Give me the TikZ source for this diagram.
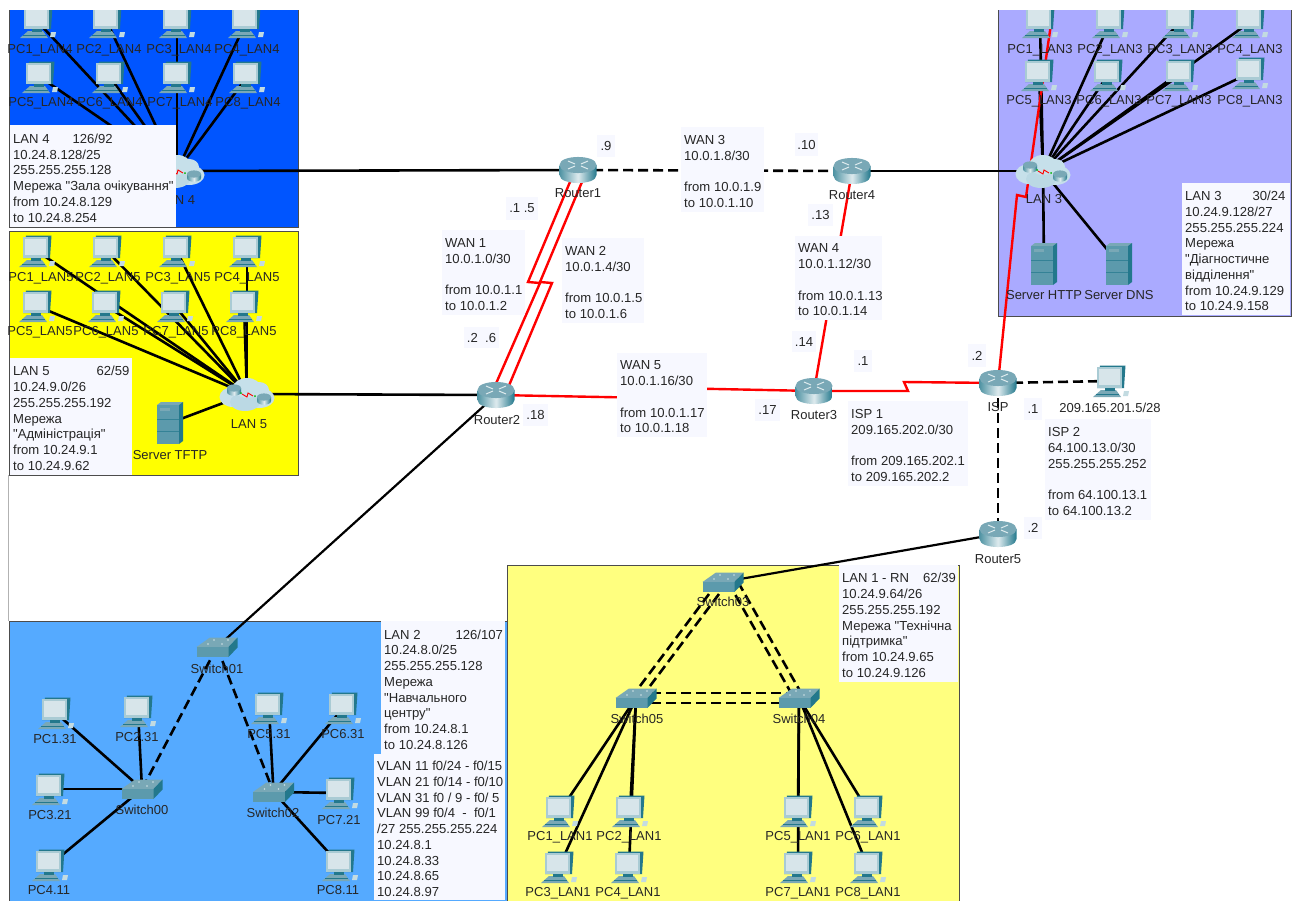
\documentclass[tikz,border=0pt]{standalone}
\usepackage{fontspec}
\setmainfont{Liberation Sans}
\newfontfamily\lsans{Liberation Sans}
\usetikzlibrary{calc}
\pgfdeclarelayer{regions}\pgfdeclarelayer{conn}\pgfdeclarelayer{labels}\pgfdeclarelayer{notes}
\pgfsetlayers{regions,conn,main,labels,notes}
\definecolor{lanfour}{HTML}{0055FF}
\definecolor{lanfive}{HTML}{FFFF00}
\definecolor{lanthree}{HTML}{AAAAFF}
\definecolor{lantwo}{HTML}{55AAFF}
\definecolor{lanone}{HTML}{FFFF7F}
\definecolor{notefill}{HTML}{F7F8FF}
\definecolor{txt}{HTML}{262626}
\definecolor{teal1}{HTML}{5C9AAC}
\definecolor{teal2}{HTML}{23788C}
\definecolor{teal3}{HTML}{79A8B6}
\definecolor{screenc}{HTML}{D7E5EA}
\definecolor{framec}{HTML}{A9CBD4}
\definecolor{cloudc}{HTML}{C6E0EA}
\tikzset{
  region/.style={draw=black!70,line width=1pt},
  lanlink/.style={draw=black,line width=2.6pt},
  thinlink/.style={draw=black,line width=2.2pt},
  dashlink/.style={draw=black,line width=2.6pt,dash pattern=on 10pt off 5pt},
  redlink/.style={draw=red,line width=2.4pt,line join=miter},
  devlabel/.style={font=\lsans\fontsize{13}{15}\selectfont,text=txt,inner sep=0pt},
  noteb/.style={fill=notefill,anchor=north west,inner sep=0pt,outer sep=0pt},
  notet/.style={anchor=west,inner sep=0pt,align=left,font=\lsans\fontsize{13.1}{15.75}\selectfont,text=txt},
  tagt/.style={inner sep=0pt,font=\lsans\fontsize{13.1}{15.75}\selectfont,text=txt},
  pcicon/.pic={
    \fill[teal3] (-18,16) -- (10,16) -- (5,9) -- (-10,9) -- cycle;
    \draw[teal2,line width=.6pt] (-15,13) -- (8,13);
    \fill[teal2] (-6,6) rectangle (4,10);
    \fill[teal2] (-11,-15.5) -- (14.5,-15.5) -- (13,7) -- (-14,7) -- cycle;
    \fill[framec] (-14,-14) -- (11,-14) -- (11,7) -- (-14,7) -- cycle;
    \fill[screenc] (-12,-12) rectangle (9,4);
    \fill[framec!70!white] (13,10) -- (18,10) -- (17,15) -- (12,15) -- cycle;
  },
  routericon/.pic={
    \shade[left color=teal2!80!white,right color=teal2,middle color=white!80!teal1]
      (-18.5,-5) -- (-18.5,5) .. controls (-18.5,15.7) and (18.5,15.7) .. (18.5,5) -- (18.5,-5) -- cycle;
    \fill[teal3] (-18.5,-5) .. controls (-18.5,-15.7) and (18.5,-15.7) .. (18.5,-5)
      .. controls (18.5,5.7) and (-18.5,5.7) .. (-18.5,-5) -- cycle;
    \draw[white!80!teal1,line width=1pt] (-10,-9) -- (-3,-6) (10,-9) -- (3,-6) (-10,-1) -- (-3,-4) (10,-1) -- (3,-4);
  },
  switchicon/.pic={
    \fill[teal3] (-20.5,0) -- (-7,-9.5) -- (20.5,-9.5) -- (11.5,0) -- cycle;
    \fill[teal1] (-20.5,0) rectangle (11.5,10);
    \fill[teal2] (11.5,0) -- (20.5,-9.5) -- (20.5,0.5) -- (11.5,10) -- cycle;
    \fill[white!70!teal1] (-9,-3) circle (.9) (5,-3) circle (.9) (-3,-7) circle (.9) (11,-7) circle (.9);
  },
  servericon/.pic={
    \fill[teal3] (-13,-18) -- (-9,-21) -- (13,-21) -- (9,-18) -- cycle;
    \fill[teal1] (-13,-18) rectangle (9,21);
    \fill[teal2] (9,-18) -- (13,-21) -- (13,18) -- (9,21) -- cycle;
    \fill[teal3] (-10,-15) rectangle (0,-12);
    \draw[teal2!70!teal1,line width=.5pt] (-13,-4) -- (9,-4) (-13,8) -- (9,8);
  },
  cloudicon/.pic={
    \fill[cloudc] (-14,3) ellipse [x radius=13.5pt,y radius=10pt];
    \fill[cloudc] (12,4) ellipse [x radius=15.5pt,y radius=10pt];
    \fill[cloudc!90!teal1] (-2,8) ellipse [x radius=15pt,y radius=9pt];
    \fill[cloudc] (0,-6) ellipse [x radius=14pt,y radius=10pt];
    \fill[cloudc] (12,-4) ellipse [x radius=10pt,y radius=8pt];
    \foreach \cx/\cy in {-13/-4,17/5}{
      \shade[left color=teal2!80!white,right color=teal2,middle color=white!80!teal1]
        (\cx-7,\cy-2) -- (\cx-7,\cy+2) .. controls (\cx-7,\cy+7) and (\cx+7,\cy+7) .. (\cx+7,\cy+2) -- (\cx+7,\cy-2) -- cycle;
      \fill[teal3] (\cx,\cy-2) ellipse [x radius=7pt,y radius=3.6pt];
    }
    \draw[red,line width=.9pt] (-5,0) -- (0,3) -- (1,-1) -- (6,2);
    \fill[green!70!black] (-6,-1) circle (1) (8,2) circle (1);
  },
}
\newcommand\dev[7]{%
  \coordinate (#2) at (#3,#4);
  \pic at (#2) {#1};
  \begin{pgfonlayer}{labels}\node[devlabel] (#2l) at (#5,#6) {#7};\end{pgfonlayer}}
\newcommand\notebx[6]{%
  \pgfmathsetmacro\nw{#4-#2}\pgfmathsetmacro\nh{#5-#3}\pgfmathsetmacro\ny{(#3+#5)/2+2}\pgfmathsetmacro\nx{#2+3}%
  \begin{pgfonlayer}{notes}
  \node[noteb,minimum width=\nw pt,minimum height=\nh pt] (#1) at (#2,#3) {};
  \node[notet] (#1t) at (\nx,\ny) {#6};
  \end{pgfonlayer}}
\newcommand\tagbx[6]{%
  \pgfmathsetmacro\nw{#4-#2}\pgfmathsetmacro\nh{#5-#3}%
  \begin{pgfonlayer}{notes}
  \node[noteb,minimum width=\nw pt,minimum height=\nh pt] (#1) at (#2,#3) {};
  \node[tagt] (#1t) at (#1.center) {#6};
  \end{pgfonlayer}}
\begin{document}
\begin{tikzpicture}[x=1pt,y=-1pt]
\useasboundingbox (0,0) rectangle (1298,900);
\begin{pgfonlayer}{regions}
\fill[white] (0,0) rectangle (1298,900);
\draw[black!30,line width=.8pt] (8.5,475) -- (8.5,621);
\filldraw[region,fill=lanfour] (9,9) rectangle (298,227);
\filldraw[region,fill=lanfive] (9,231) rectangle (298,475);
\filldraw[region,fill=lanthree] (998,9) rectangle (1291,316);
\filldraw[region,fill=lantwo] (9,621) rectangle (507,905);
\filldraw[region,fill=lanone] (507,565) rectangle (959,905);
\end{pgfonlayer}

% LAN 4
\dev{pcicon}{lfa}{38}{22}{40}{50}{PC1\_LAN4}
\dev{pcicon}{lfb}{107}{22}{109}{50}{PC2\_LAN4}
\dev{pcicon}{lfc}{177}{22}{179}{50}{PC3\_LAN4}
\dev{pcicon}{lfd}{246}{22}{247}{50}{PC4\_LAN4}
\dev{pcicon}{lfe}{40}{77}{41}{103}{PC5\_LAN4}
\dev{pcicon}{lff}{110}{77}{110}{103}{PC6\_LAN4}
\dev{pcicon}{lfg}{177}{77}{180}{103}{PC7\_LAN4}
\dev{pcicon}{lfh}{247}{77}{248}{103}{PC8\_LAN4}
\dev{cloudicon}{cloudfour}{177}{171}{177}{200}{LAN 4}
% LAN 5
\dev{pcicon}{lva}{37}{251}{41}{278}{PC1\_LAN5}
\dev{pcicon}{lvb}{107}{251}{108}{278}{PC2\_LAN5}
\dev{pcicon}{lvc}{177}{251}{178}{278}{PC3\_LAN5}
\dev{pcicon}{lvd}{247}{251}{247}{278}{PC4\_LAN5}
\dev{pcicon}{lve}{37}{306}{40}{332}{PC5\_LAN5}
\dev{pcicon}{lvf}{106}{306}{106}{332}{PC6\_LAN5}
\dev{pcicon}{lvg}{175}{306}{176}{332}{PC7\_LAN5}
\dev{pcicon}{lvh}{244}{306}{244}{332}{PC8\_LAN5}
\dev{cloudicon}{cloudfive}{247}{394}{249}{424}{LAN 5}
\dev{servericon}{tftp}{170}{423}{170}{455}{Server TFTP}
% LAN 3
\dev{pcicon}{lta}{1040}{22}{1040}{50}{PC1\_LAN3}
\dev{pcicon}{ltb}{1110}{22}{1110}{50}{PC2\_LAN3}
\dev{pcicon}{ltc}{1180}{22}{1180}{50}{PC3\_LAN3}
\dev{pcicon}{ltd}{1250}{22}{1250}{50}{PC4\_LAN3}
\dev{pcicon}{lte}{1039}{75}{1039}{101}{PC5\_LAN3}
\dev{pcicon}{ltf}{1108}{75}{1109}{101}{PC6\_LAN3}
\dev{pcicon}{ltg}{1180}{75}{1179}{101}{PC7\_LAN3}
\dev{pcicon}{lth}{1250}{73}{1250}{101}{PC8\_LAN3}
\dev{cloudicon}{cloudthree}{1043}{171}{1044}{199}{LAN 3}
\dev{servericon}{http}{1044}{264}{1044}{295}{Server HTTP}
\dev{servericon}{dns}{1119}{264}{1119}{295}{Server DNS}
% routers
\dev{routericon}{rone}{578}{170}{578}{193}{Router1}
\dev{routericon}{rtwo}{496}{395}{497}{420}{Router2}
\dev{routericon}{rthree}{814}{391}{814}{415}{Router3}
\dev{routericon}{rfour}{852}{171}{852}{195}{Router4}
\dev{routericon}{rfive}{998}{534}{998}{559}{Router5}
\dev{routericon}{isp}{998}{383}{998}{407}{ISP}
\dev{pcicon}{extpc}{1111}{381}{1110}{408}{209.165.201.5/28}
% LAN 2
\dev{switchicon}{swone}{217}{647}{217}{669}{Switch01}
\dev{switchicon}{swzero}{142}{789}{142}{810}{Switch00}
\dev{switchicon}{swtwo}{273.5}{792}{273}{813}{Switch02}
\dev{pcicon}{pa}{56}{713}{55}{739}{PC1.31}
\dev{pcicon}{pb}{138}{711}{137}{737}{PC2.31}
\dev{pcicon}{pc}{50}{789}{50}{815}{PC3.21}
\dev{pcicon}{pd}{50}{865}{49}{890}{PC4.11}
\dev{pcicon}{pe}{269}{708}{269}{734}{PC5.31}
\dev{pcicon}{pf}{343}{708}{343}{734}{PC6.31}
\dev{pcicon}{pg}{340}{793}{339}{820}{PC7.21}
\dev{pcicon}{ph}{340}{865}{338}{890}{PC8.11}
% LAN 1
\dev{switchicon}{swthree}{723}{582}{723}{602}{Switch03}
\dev{switchicon}{swfive}{636}{698}{637}{719}{Switch05}
\dev{switchicon}{swfour}{799}{698}{799}{719}{Switch04}
\dev{pcicon}{qa}{560}{811}{560}{837}{PC1\_LAN1}
\dev{pcicon}{qb}{630}{811}{629}{837}{PC2\_LAN1}
\dev{pcicon}{qc}{559}{867}{558}{893}{PC3\_LAN1}
\dev{pcicon}{qd}{629}{867}{628}{893}{PC4\_LAN1}
\dev{pcicon}{qe}{798}{811}{798}{837}{PC5\_LAN1}
\dev{pcicon}{qf}{868}{811}{868}{837}{PC6\_LAN1}
\dev{pcicon}{qg}{798}{867}{798}{893}{PC7\_LAN1}
\dev{pcicon}{qh}{868}{867}{868}{893}{PC8\_LAN1}

\coordinate (topfree) at (1054,3);
\begin{pgfonlayer}{conn}
\foreach \p in {lfa,lfb,lfc,lfd,lfe,lff,lfg,lfh}{\draw[lanlink] (cloudfour) -- (\p);}
\foreach \p in {lva,lvb,lvc,lvd,lve,lvf,lvg,lvh,tftp}{\draw[lanlink] (cloudfive) -- (\p);}
\foreach \p in {lta,ltb,ltc,ltd,lte,ltf,ltg,lth,http,dns}{\draw[lanlink] (cloudthree) -- (\p);}
\draw[lanlink] (cloudfour) -- (rone);
\draw[lanlink] (cloudfive) -- (rtwo);
\draw[lanlink] (rfour) -- (cloudthree);
\draw[dashlink] (rone) -- (rfour);
\draw[dashlink] (isp) -- (extpc);
\draw[dashlink] (isp) -- (rfive);
\draw[thinlink] (rfive) -- (swthree);
\draw[thinlink] (rtwo) -- (swone);
\draw[dashlink] (swone) -- (swzero);
\draw[dashlink] (swone) -- (swtwo);
\foreach \p in {pa,pb,pc,pd}{\draw[lanlink] (swzero) -- (\p);}
\foreach \p in {pe,pf,pg,ph}{\draw[lanlink] (swtwo) -- (\p);}
\foreach \p in {qa,qb,qc,qd}{\draw[lanlink] (swfive) -- (\p);}
\foreach \p in {qe,qf,qg,qh}{\draw[lanlink] (swfour) -- (\p);}
\draw[dashlink] ($(swthree)+(-5,0)$) -- ($(swfive)+(-5,0)$);
\draw[dashlink] ($(swthree)+(5,0)$) -- ($(swfive)+(5,0)$);
\draw[dashlink] ($(swthree)+(5,0)$) -- ($(swfour)+(-5,0)$);
\draw[dashlink] ($(swthree)+(15,0)$) -- ($(swfour)+(5,0)$);
\draw[dashlink] ($(swfive)+(0,-5)$) -- ($(swfour)+(0,-5)$);
\draw[dashlink] ($(swfive)+(0,5)$) -- ($(swfour)+(0,5)$);
% serial links
\draw[redlink] ($(rone)+(-3,0)$) -- (528,282) -- (540,283) -- ($(rtwo)+(-5,0)$);
\draw[redlink] ($(rone)+(9,0)$) -- (540,282) -- (552,283) -- ($(rtwo)+(9,0)$);
\draw[redlink] (rtwo) -- (655,398) -- (668,388) -- (rthree);
\draw[redlink] (rthree) -- (rfour);
\draw[redlink] (rthree) -- (908,391) -- (904,382) -- (isp);
\draw[redlink] (isp) -- (1017,195) -- (1026,197) -- (topfree);
\end{pgfonlayer}

% notes
\notebx{nfour}{10}{125}{176}{227}{LAN 4\hspace*{23pt}126/92\\10.24.8.128/25\\255.255.255.128\\Мережа "Зала очікування"\\from 10.24.8.129\\to 10.24.8.254}
\notebx{nfive}{10}{358}{132}{475}{LAN 5\hspace*{47pt}62/59\\10.24.9.0/26\\255.255.255.192\\Мережа\\"Адміністрація"\\from 10.24.9.1\\to 10.24.9.62}
\notebx{nthree}{1182}{183}{1290}{315}{LAN 3\hspace*{31pt}30/24\\10.24.9.128/27\\255.255.255.224\\Мережа\\"Діагностичне\\відділення"\\from 10.24.9.129\\to 10.24.9.158}
\notebx{ntwo}{381}{621}{505}{754}{LAN 2\hspace*{35pt}126/107\\10.24.8.0/25\\255.255.255.128\\Мережа\\"Навчального\\центру"\\from 10.24.8.1\\to 10.24.8.126}
\notebx{nvlan}{374}{754}{505}{900}{VLAN 11 f0/24 - f0/15\\VLAN 21 f0/14 - f0/10\\VLAN 31 f0 / 9 - f0/ 5\\VLAN 99 f0/4\ \ -\ \ f0/1\\/27 255.255.255.224\\10.24.8.1\\10.24.8.33\\10.24.8.65\\10.24.8.97}
\notebx{none}{839}{565}{958}{682}{LAN 1 - RN\hspace*{14pt}62/39\\10.24.9.64/26\\255.255.255.192\\Мережа "Технічна\\підтримка"\\from 10.24.9.65\\to 10.24.9.126}
\notebx{wone}{442}{230}{525}{315}{WAN 1\\10.0.1.0/30\\\mbox{}\\from 10.0.1.1\\to 10.0.1.2}
\notebx{wtwo}{562}{238}{644}{323}{WAN 2\\10.0.1.4/30\\\mbox{}\\from 10.0.1.5\\to 10.0.1.6}
\notebx{wthree}{681}{127}{764}{212}{WAN 3\\10.0.1.8/30\\\mbox{}\\from 10.0.1.9\\to 10.0.1.10}
\notebx{wfour}{795}{236}{882}{320}{WAN 4\\10.0.1.12/30\\\mbox{}\\from 10.0.1.13\\to 10.0.1.14}
\notebx{wfive}{617}{353}{707}{437}{WAN 5\\10.0.1.16/30\\\mbox{}\\from 10.0.1.17\\to 10.0.1.18}
\notebx{ione}{848}{401}{968}{486}{ISP 1\\209.165.202.0/30\\\mbox{}\\from 209.165.202.1\\to 209.165.202.2}
\notebx{itwo}{1045}{419}{1151}{520}{ISP 2\\64.100.13.0/30\\255.255.255.252\\\mbox{}\\from 64.100.13.1\\to 64.100.13.2}
\tagbx{tnine}{597}{135}{615}{157}{.9}
\tagbx{tonefive}{506}{197}{538}{220}{.1 .5}
\tagbx{ttwosix}{464}{327}{499}{348}{.2\ \ .6}
\tagbx{teighteen}{523}{404}{548}{426}{.18}
\tagbx{tseventeen}{755}{399}{780}{421}{.17}
\tagbx{tten}{795}{133}{818}{156}{.10}
\tagbx{tthirteen}{808}{204}{833}{226}{.13}
\tagbx{tfourteen}{792}{331}{816}{352}{.14}
\tagbx{tonea}{854}{350}{872}{372}{.1}
\tagbx{ttwoa}{968}{344}{986}{367}{.2}
\tagbx{toneb}{1024}{398}{1042}{420}{.1}
\tagbx{ttwob}{1024}{517}{1042}{539}{.2}
\begin{pgfonlayer}{notes}
\fill[white] (0,0) rectangle (1298,9.5);
\fill[white] (0,0) rectangle (8,900);
\end{pgfonlayer}
\end{tikzpicture}
\end{document}
